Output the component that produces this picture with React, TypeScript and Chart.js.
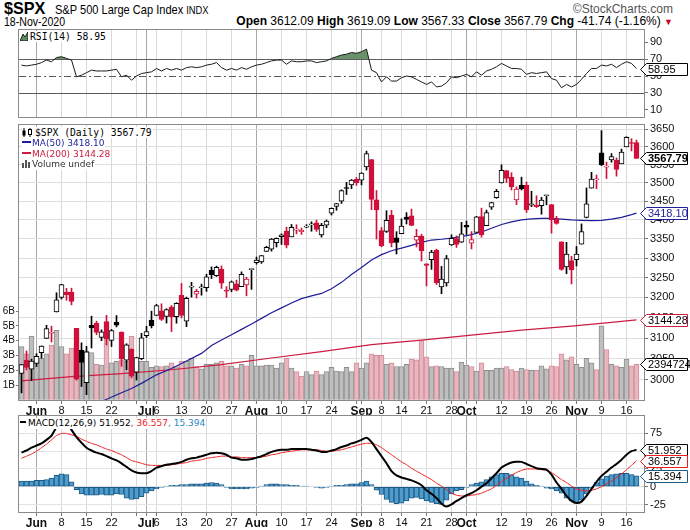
import React, { useEffect, useRef } from 'react';
import { Chart, registerables } from 'chart.js';

Chart.register(...registerables);

// ---------------- data ----------------
const DATES = [
  '05-27','05-28','05-29',
  '06-01','06-02','06-03','06-04','06-05','06-08','06-09','06-10','06-11','06-12',
  '06-15','06-16','06-17','06-18','06-19','06-22','06-23','06-24','06-25','06-26','06-29','06-30',
  '07-01','07-02','07-06','07-07','07-08','07-09','07-10','07-13','07-14','07-15','07-16','07-17',
  '07-20','07-21','07-22','07-23','07-24','07-27','07-28','07-29','07-30','07-31',
  '08-03','08-04','08-05','08-06','08-07','08-10','08-11','08-12','08-13','08-14',
  '08-17','08-18','08-19','08-20','08-21','08-24','08-25','08-26','08-27','08-28','08-31',
  '09-01','09-02','09-03','09-04','09-08','09-09','09-10','09-11','09-14','09-15','09-16','09-17','09-18',
  '09-21','09-22','09-23','09-24','09-25','09-28','09-29','09-30',
  '10-01','10-02','10-05','10-06','10-07','10-08','10-09','10-12','10-13','10-14','10-15','10-16',
  '10-19','10-20','10-21','10-22','10-23','10-26','10-27','10-28','10-29','10-30',
  '11-02','11-03','11-04','11-05','11-06','11-09','11-10','11-11','11-12','11-13','11-16','11-17','11-18',
];

const OPEN = [
  3015.65,3046.61,3025.17,
  3038.78,3064.78,3098.90,3111.56,3163.84,3199.92,3213.32,3213.42,3123.53,3071.04,
  2993.76,3131.00,3136.13,3101.64,3140.29,3094.42,3138.70,3114.40,3046.60,3073.20,3018.59,3050.20,
  3105.92,3143.64,3155.29,3166.44,3153.07,3176.17,3152.47,3205.08,3141.11,3225.98,3208.36,3224.21,
  3224.29,3268.52,3254.86,3271.64,3218.58,3219.84,3234.27,3227.22,3231.76,3270.45,
  3288.26,3289.92,3317.37,3323.17,3340.05,3356.04,3370.34,3355.46,3372.95,3368.66,
  3380.86,3387.04,3392.51,3360.48,3386.01,3418.09,3435.95,3449.97,3485.14,3494.69,3509.73,
  3507.44,3543.76,3564.74,3453.60,3371.88,3369.82,3412.56,3352.70,3363.56,3407.73,3411.23,3346.86,3357.38,
  3285.57,3295.75,3320.11,3226.14,3236.66,3333.90,3350.92,3341.21,
  3385.87,3338.94,3367.27,3408.74,3384.56,3434.28,3459.67,3500.02,3534.01,3515.47,3453.72,3493.50,
  3493.66,3439.38,3439.91,3438.50,3464.90,3441.42,3403.15,3342.48,3277.17,3293.59,
  3296.20,3336.25,3406.46,3485.74,3508.34,3583.04,3543.26,3563.22,3562.67,3552.57,3600.16,3610.31,3612.09,
];

const HIGH = [
  3036.25,3068.67,3049.17,
  3062.18,3081.07,3130.94,3128.91,3211.72,3233.13,3222.71,3223.27,3123.53,3088.42,
  3079.76,3153.45,3141.16,3120.00,3155.53,3120.92,3154.90,3115.01,3086.25,3073.73,3053.89,3111.51,
  3128.44,3165.81,3182.59,3184.15,3171.80,3179.78,3186.82,3235.32,3200.95,3238.28,3220.39,3233.52,
  3258.61,3277.29,3279.32,3279.99,3227.26,3241.43,3243.72,3264.74,3250.92,3272.17,
  3302.73,3306.84,3330.77,3351.03,3352.54,3363.29,3381.01,3387.89,3387.24,3378.51,
  3387.59,3395.06,3399.54,3390.80,3399.96,3432.09,3444.21,3481.07,3501.38,3509.23,3514.77,
  3528.03,3588.11,3564.85,3479.15,3379.97,3424.77,3425.55,3368.95,3402.93,3419.48,3428.92,3375.17,3362.27,
  3285.57,3320.31,3323.35,3278.70,3306.88,3360.74,3357.92,3393.56,
  3397.18,3369.10,3409.57,3431.56,3426.26,3447.28,3482.34,3549.85,3534.01,3527.94,3489.08,3515.76,
  3502.42,3476.93,3464.86,3460.53,3466.46,3441.42,3409.51,3342.48,3341.05,3304.93,
  3330.14,3389.49,3486.25,3529.05,3521.58,3645.99,3557.22,3581.16,3569.02,3593.66,3628.51,3623.11,3619.09,
];

const LOW = [
  2969.75,3023.40,2998.61,
  3031.54,3051.64,3098.90,3090.41,3163.84,3196.00,3193.11,3181.49,2999.49,2984.47,
  2965.66,3076.06,3108.03,3093.51,3083.11,3079.39,3127.12,3032.13,3024.01,3004.63,2999.74,3047.83,
  3101.17,3124.52,3155.29,3142.93,3136.53,3115.70,3136.22,3149.43,3127.66,3200.76,3198.59,3205.65,
  3215.16,3247.77,3253.10,3222.66,3200.05,3214.25,3216.17,3227.22,3204.13,3220.26,
  3284.53,3286.37,3317.37,3318.14,3328.72,3335.44,3326.44,3355.46,3363.35,3361.64,
  3379.22,3370.15,3369.66,3354.69,3379.31,3413.13,3425.84,3444.15,3468.35,3484.32,3493.25,
  3494.60,3535.23,3427.41,3349.63,3329.27,3366.84,3329.25,3310.47,3363.56,3389.25,3384.45,3328.82,3292.40,
  3229.10,3270.95,3232.57,3209.45,3228.44,3332.91,3327.54,3340.47,
  3361.39,3323.69,3367.27,3354.54,3384.56,3428.15,3458.07,3499.61,3500.86,3480.55,3440.89,3480.45,
  3419.93,3435.65,3433.06,3415.34,3440.45,3364.86,3388.71,3268.89,3259.82,3233.94,
  3279.74,3336.25,3405.17,3485.74,3484.34,3547.48,3511.91,3557.00,3518.58,3552.57,3600.16,3588.68,3567.33,
];

const CLOSE = [
  3036.13,3029.73,3044.31,
  3055.73,3080.82,3122.87,3112.35,3193.93,3232.39,3207.18,3190.14,3002.10,3041.31,
  3066.59,3124.74,3113.49,3115.34,3097.74,3117.86,3131.29,3050.33,3083.76,3009.05,3053.24,3100.29,
  3115.86,3130.01,3179.72,3145.32,3169.94,3152.05,3185.04,3155.22,3197.52,3226.56,3215.57,3224.73,
  3251.84,3257.30,3276.02,3235.66,3215.63,3239.41,3218.44,3258.44,3246.22,3271.12,
  3294.61,3306.51,3327.77,3349.16,3351.28,3360.47,3333.69,3380.35,3373.43,3372.85,
  3381.99,3389.78,3374.85,3385.51,3397.16,3431.28,3443.62,3478.73,3484.55,3508.01,3500.31,
  3526.65,3580.84,3455.06,3426.96,3331.84,3398.96,3339.19,3340.97,3383.54,3401.20,3385.49,3357.01,3319.47,
  3281.06,3315.57,3236.92,3246.59,3298.46,3351.60,3335.47,3363.00,
  3380.80,3348.42,3408.60,3360.97,3419.44,3446.83,3477.14,3534.22,3511.93,3488.67,3483.34,3483.81,
  3426.92,3443.12,3435.56,3453.49,3465.39,3400.97,3390.68,3271.03,3310.11,3269.96,
  3310.24,3369.16,3443.44,3510.45,3509.44,3550.50,3545.53,3572.66,3537.01,3585.15,3626.91,3609.53,3567.79,
];

const PREV_CLOSE_START = 2991.77;

// volume in billions of shares
const VOLUME = [
  3.6,3.1,4.3,
  2.9,2.8,3.1,3.7,4.7,3.6,3.1,3.5,4.6,3.3,
  3.3,3.2,2.4,2.35,4.4,2.5,2.6,2.7,2.6,4.3,2.6,2.6,
  2.6,2.2,2.3,2.25,2.3,2.5,2.25,2.6,2.6,2.8,2.25,2.1,
  2.4,2.4,2.5,2.6,2.3,2.3,2.15,2.4,2.3,3.0,
  2.3,2.3,2.35,2.35,2.15,2.5,2.8,2.15,1.9,1.6,
  1.9,1.7,1.95,1.7,1.9,2.2,1.95,1.9,2.2,1.9,2.5,
  2.15,2.5,3.1,3.0,3.0,2.4,2.5,2.25,2.25,2.4,2.75,2.7,4.0,
  2.9,2.25,2.3,2.25,2.15,2.15,1.9,2.55,
  2.35,2.25,1.95,2.5,2.0,2.0,2.15,2.15,2.25,2.05,1.95,2.15,
  2.05,2.0,2.0,2.3,2.1,2.3,2.25,3.1,2.7,2.9,
  2.4,2.2,2.8,2.5,2.05,5.0,3.4,2.4,2.3,2.2,2.75,2.3,2.394724,
];

const MA50_DATES = [
  '06-18','06-24','06-26','06-30','07-06','07-09','07-14','07-17','07-21','07-23','07-27','07-29','07-31',
  '08-04','08-06','08-10','08-12','08-14','08-18','08-20','08-24','08-26','08-28','09-01','09-03','09-08',
  '09-10','09-14','09-16','09-18','09-22','09-24','09-28','09-30','10-02','10-06','10-08','10-12','10-14',
  '10-16','10-20','10-22','10-26','10-28','10-30','11-03','11-05','11-09','11-11','11-13','11-17','11-18',
];
const MA50_VALUES = [
  2950,2970,2980,2992,3012,3027,3045,3063,3082,3095,3108,3121,3134,
  3148,3162,3174,3186,3197,3204,3210,3222,3238,3258,3276,3295,3309,
  3319,3326,3333,3341,3347,3349,3352,3356,3361,3368,3378,3388,3395,
  3400,3403,3404,3404,3402,3400,3399,3398,3399,3402,3407,3414,3418.10,
];

const MA200_DATES = ['05-27','06-10','06-24','07-09','07-23','08-06','08-20','09-03','09-18','10-02','10-16','10-30','11-11','11-18'];
const MA200_VALUES = [2998,3008,3015,3024,3036,3052,3067,3084,3095,3107,3119,3129,3138,3144.28];

const RSI = [
  63,62,63,
  64,66,69,67,72,73,71,69,49,51,
  54,57,56,56,56,57,58,49,51,45,50,53,
  54,55,59,56,59,57,59,57,60,61,60,61,
  63,64,66,60,57,59,57,60,58,61,
  63,64,66,68,69,69,64,68,67,67,
  68,68,66,67,68,71,73,75,76,78,77,
  79,82,57,54,43,49,44,44,48,50,49,46,43,
  40,43,37,38,42,49,48,50,
  52,49,55,51,56,58,61,65,62,59,59,58,
  52,54,53,54,55,47,45,36,40,37,
  40,46,53,59,59,63,62,64,60,64,67,65,58.95,
];

const MACD = [
  48,51,55,
  58,61,66,72,84,95,92,80,70,62,
  55,51,48,46,43,40,37,33,28,23,20,19,
  19,22,27,29,31,32,33,35,38,40,41,43,
  45,47,48,47,45,41,40,38,38,39,
  41,43,46,49,51,52,52,53,53,53,
  53,52,51,49,49,51,53,56,58,61,63,
  66,69,63,53,43,33,22,16,13,11,9,6,2,
  -5,-10,-16,-24,-28,-25,-20,-16,
  -12,-9,-5,0,5,12,19,27,31,34,35,35,
  32,29,26,25,24,17,6,-3,-13,-20,
  -23,-21,-13,-3,7,15,21,27,32,38,45,50,51.952,
];

const SIGNAL = [
  40,43,46,
  50,55,60,66,72,75,75,73,71,67,
  64,61,59,56,53,51,48,45,41,37,35,33,
  31,30,30,30,30,31,32,33,34,36,37,38,
  40,41,42,43,43,42,42,41,41,41,
  41,42,43,45,46,48,49,50,51,52,
  52,52,52,51,50,50,51,52,54,56,58,
  60,61,61,59,55,50,45,40,35,31,26,22,18,
  14,10,5,1,-4,-9,-12,-13,
  -13,-12,-11,-9,-6,-3,2,7,12,16,20,23,
  25,25,25,24,23,20,15,10,6,1,
  -3,-5,-6,-5,-3,0,4,8,13,18,24,30,36.557,
];

const HIST = [
  8,8,8,
  9,9,10,12,16,18,17,7,-4,-10,
  -12,-12,-12,-11,-12,-12,-10,-11,-16,-18,-17,-14,
  -9,-6,-3,-1,1,2,2,3,3,4,4,4,
  5,6,5,3,-1,-3,-3,-3,-3,-2,
  -1,1,3,4,4,3,3,2,2,1,
  1,0,-1,-2,-1,1,2,2,3,4,4,
  6,8,3,-5,-11,-18,-22,-24,-23,-20,-16,-15,-17,
  -20,-22,-24,-25,-19,-10,-6,-4,
  -1,3,5,7,10,14,17,19,19,17,14,12,
  8,4,2,1,-2,-3,-6,-9,-16,-20,
  -22,-19,-10,-2,6,11,15,17,18,19,19,17,15.394,
];

const TICK_DATES = ['06-01','06-08','06-15','06-22','06-29','07-01','07-06','07-13','07-20','07-27','08-03','08-10','08-17','08-24','08-31','09-01','09-08','09-14','09-21','09-28','10-01','10-05','10-12','10-19','10-26','11-02','11-09','11-16'];
const TICK_LABELS = ['Jun','8','15','22','','Jul','6','13','20','27','Aug','10','17','24','','Sep','8','14','21','28','Oct','','12','19','26','Nov','9','16'];

const PRICE_TICKS = [3000,3050,3100,3150,3200,3250,3300,3350,3400,3450,3500,3550,3600,3650];
const VOLUME_TICKS = [1,2,3,4,5,6];
const RSI_TICKS = [10,30,50,70,90];
const MACD_TICKS = [-25,0,25,50,75];

// ---------------- styling helpers ----------------
const AXIS_FONT = '"Liberation Sans", Arial, sans-serif';
const UP = '#000000';
const DOWN = '#d0103a';
const N = DATES.length;
const SLOTS = [...DATES, ''];

const prevClose = (i: number) => (i === 0 ? PREV_CLOSE_START : CLOSE[i - 1]);
const isDown = (i: number) => CLOSE[i] < prevClose(i);
const candleColor = (i: number) => (isDown(i) ? DOWN : UP);

const TICK_AT = new Map<number, number>(TICK_DATES.map((d, k) => [DATES.indexOf(d), k]));
const isMonthLabel = (k: number) => /^[A-Z]/.test(TICK_LABELS[k]);
const isMonthAt = (i: number) => { const k = TICK_AT.get(i); return k !== undefined && isMonthLabel(k); };

function makeX(showLabels: boolean) {
  return {
    type: 'category',
    offset: true,
    grid: {
      offset: false,
      drawTicks: showLabels,
      tickLength: 3,
      lineWidth: 1,
      color: (c: any) => { const k = TICK_AT.get(c.index); if (k === undefined) return 'rgba(0,0,0,0)'; return isMonthLabel(k) ? '#a9a9a9' : '#d9d9d9'; },
      tickColor: (c: any) => (TICK_AT.has(c.index) ? '#777' : 'rgba(0,0,0,0)'),
    },
    border: { display: false },
    ticks: {
      display: showLabels,
      autoSkip: false,
      maxRotation: 0,
      minRotation: 0,
      padding: 0,
      color: '#111',
      callback: (_v: any, i: number) => { const k = TICK_AT.get(i); return k === undefined ? '' : TICK_LABELS[k]; },
      font: (c: any) => ({ family: AXIS_FONT, size: isMonthAt(c.index) ? 12 : 11, weight: isMonthAt(c.index) ? 'bold' : 'normal' }),
    },
    afterFit: (s: any) => { s.height = showLabels ? 14 : 0; s.paddingLeft = 0; s.paddingRight = 0; },
  };
}

function rightY(extra: any) {
  return {
    position: 'right',
    border: { display: false },
    ticks: { font: { family: AXIS_FONT, size: 11 }, color: '#111', padding: 2 },
    afterFit: (s: any) => { s.width = 46; s.paddingTop = 0; s.paddingBottom = 0; },
    ...extra,
  };
}

const framePlugin = {
  id: 'frame',
  afterDatasetsDraw(chart: any) {
    const { ctx, chartArea: a } = chart;
    ctx.save();
    ctx.strokeStyle = '#8a8a8a';
    ctx.lineWidth = 1;
    ctx.strokeRect(Math.round(a.left) - 0.5, Math.round(a.top) + 0.5, Math.round(a.right - a.left) + 1, Math.round(a.bottom - a.top) - 1);
    ctx.restore();
  },
};

type Tag = { scale: string; value: number; text: string; color: string; textColor?: string; bold?: boolean };
function tagPlugin(tags: Tag[]) {
  return {
    id: 'tags',
    afterDraw(chart: any) {
      const ctx = chart.ctx;
      const r = chart.chartArea.right;
      tags.forEach((t) => {
        const y = Math.round(chart.scales[t.scale].getPixelForValue(t.value)) + 0.5;
        const h = 12;
        const x0 = r - 3.5, x1 = r + 2.5, x2 = r + 43.5;
        ctx.save();
        ctx.beginPath();
        ctx.moveTo(x0, y);
        ctx.lineTo(x1, y - h / 2);
        ctx.lineTo(x2, y - h / 2);
        ctx.lineTo(x2, y + h / 2);
        ctx.lineTo(x1, y + h / 2);
        ctx.closePath();
        ctx.fillStyle = '#ffffff';
        ctx.fill();
        ctx.strokeStyle = t.color;
        ctx.lineWidth = 1;
        ctx.stroke();
        ctx.fillStyle = t.textColor || t.color;
        ctx.font = `${t.bold ? 'bold ' : ''}11px ${AXIS_FONT}`;
        ctx.textBaseline = 'middle';
        ctx.textAlign = 'left';
        ctx.fillText(t.text, x1 + 1.5, y + 0.5);
        ctx.restore();
      });
    },
  };
}

function levelPlugin(levels: { value: number; dash: number[] }[]) {
  return {
    id: 'levels',
    beforeDatasetsDraw(chart: any) {
      const { ctx, chartArea: a } = chart;
      levels.forEach((l) => {
        const y = Math.round(chart.scales.y.getPixelForValue(l.value)) + 0.5;
        ctx.save();
        ctx.strokeStyle = '#5a5a5a';
        ctx.lineWidth = 1;
        ctx.setLineDash(l.dash);
        ctx.beginPath();
        ctx.moveTo(a.left, y);
        ctx.lineTo(a.right, y);
        ctx.stroke();
        ctx.restore();
      });
    },
  };
}

const RSI_LEVELS = [
  { value: 70, dash: [] as number[] },
  { value: 50, dash: [7, 3, 2, 3] },
  { value: 30, dash: [] as number[] },
];

const baseOptions = (padLeft: number) => ({
  responsive: false,
  animation: false,
  events: [] as any[],
  layout: { padding: { left: padLeft, right: 0, top: 0, bottom: 0 } },
  plugins: { legend: { display: false }, tooltip: { enabled: false } },
});

// ---------------- component ----------------
const SANS = '"DejaVu Sans", Verdana, sans-serif';
const MONO = '"DejaVu Sans Mono", monospace';
const HEAD = '"Liberation Sans", Arial, sans-serif';

export default function App() {
  const rsiRef = useRef<HTMLCanvasElement>(null);
  const mainRef = useRef<HTMLCanvasElement>(null);
  const macdRef = useRef<HTMLCanvasElement>(null);

  useEffect(() => {
    const charts: Chart[] = [];

    charts.push(new Chart(rsiRef.current as HTMLCanvasElement, {
      type: 'line',
      data: {
        labels: SLOTS,
        datasets: [{
          data: RSI,
          borderColor: '#1a1a1a',
          borderWidth: 1,
          pointRadius: 0,
          tension: 0,
          fill: { target: { value: 70 }, above: 'rgba(98,140,98,0.95)', below: 'rgba(0,0,0,0)' },
        } as any],
      },
      options: {
        ...baseOptions(19),
        scales: {
          x: makeX(false),
          y: rightY({
            min: 0, max: 106,
            grid: { drawOnChartArea: false, tickLength: 4, tickColor: '#777' },
            afterBuildTicks: (s: any) => { s.ticks = RSI_TICKS.map((v) => ({ value: v })); },
          }),
        },
      } as any,
      plugins: [levelPlugin(RSI_LEVELS), framePlugin, tagPlugin([{ scale: 'y', value: RSI[N - 1], text: RSI[N - 1].toFixed(2), color: '#000' }])],
    }));

    charts.push(new Chart(mainRef.current as HTMLCanvasElement, {
      type: 'bar',
      data: {
        labels: SLOTS,
        datasets: [
          {
            type: 'bar', data: DATES.map((_, i) => [OPEN[i], CLOSE[i]]),
            backgroundColor: DATES.map((_, i) => (CLOSE[i] >= OPEN[i] ? '#ffffff' : candleColor(i))),
            borderColor: DATES.map((_, i) => candleColor(i)),
            borderWidth: 1, borderSkipped: false, barThickness: 5, grouped: false, minBarLength: 1,
            yAxisID: 'y', order: 1,
          },
          {
            type: 'bar', data: DATES.map((_, i) => [LOW[i], HIGH[i]]),
            backgroundColor: DATES.map((_, i) => candleColor(i)),
            borderWidth: 0, barThickness: 1, grouped: false, yAxisID: 'y', order: 2,
          },
          {
            type: 'line', data: MA50_DATES.map((d, k) => ({ x: d, y: MA50_VALUES[k] })),
            borderColor: '#1e1e9a', borderWidth: 1.2, pointRadius: 0, tension: 0, yAxisID: 'y', order: 3,
          },
          {
            type: 'line', data: MA200_DATES.map((d, k) => ({ x: d, y: MA200_VALUES[k] })),
            borderColor: '#cc1c40', borderWidth: 1.2, pointRadius: 0, tension: 0, yAxisID: 'y', order: 4,
          },
          {
            type: 'bar', data: VOLUME,
            backgroundColor: DATES.map((_, i) => (isDown(i) ? '#e7b7bf' : '#bebebe')),
            borderColor: DATES.map((_, i) => (isDown(i) ? '#d58a98' : '#8e8e8e')),
            borderWidth: 1, barThickness: 5, grouped: false, yAxisID: 'yVol', order: 10,
          },
        ] as any,
      },
      options: {
        ...baseOptions(0),
        scales: {
          x: makeX(true),
          y: rightY({
            type: 'logarithmic', min: 2951, max: 3665,
            grid: { color: '#dedede', tickLength: 4, tickColor: '#777' },
            ticks: { font: { family: AXIS_FONT, size: 11 }, color: '#111', padding: 2, callback: (v: any) => String(v) },
            afterBuildTicks: (s: any) => { s.ticks = PRICE_TICKS.map((v) => ({ value: v })); },
          }),
          yVol: {
            type: 'linear', position: 'left', min: -0.08, max: 18.64,
            border: { display: false },
            grid: { drawOnChartArea: false, tickLength: 3, tickColor: '#777' },
            ticks: { font: { family: AXIS_FONT, size: 10 }, color: '#111', padding: 1, callback: (v: any) => `${v}B` },
            afterBuildTicks: (s: any) => { s.ticks = VOLUME_TICKS.map((v) => ({ value: v })); },
            afterFit: (s: any) => { s.width = 19; s.paddingTop = 0; s.paddingBottom = 0; },
          },
        },
      } as any,
      plugins: [framePlugin, tagPlugin([
        { scale: 'y', value: CLOSE[N - 1], text: CLOSE[N - 1].toFixed(2), color: '#000', bold: true },
        { scale: 'y', value: MA50_VALUES[MA50_VALUES.length - 1], text: MA50_VALUES[MA50_VALUES.length - 1].toFixed(2), color: '#1e1e9a' },
        { scale: 'y', value: MA200_VALUES[MA200_VALUES.length - 1], text: MA200_VALUES[MA200_VALUES.length - 1].toFixed(2), color: '#cc1c40', textColor: '#000' },
        { scale: 'yVol', value: VOLUME[N - 1], text: String(Math.round(VOLUME[N - 1] * 1e6)), color: '#000' },
      ])],
    }));

    charts.push(new Chart(macdRef.current as HTMLCanvasElement, {
      type: 'bar',
      data: {
        labels: SLOTS,
        datasets: [
          { type: 'line', data: MACD, borderColor: '#000', borderWidth: 2, pointRadius: 0, tension: 0.2, order: 1 },
          { type: 'line', data: SIGNAL, borderColor: '#ee1c1c', borderWidth: 1, pointRadius: 0, tension: 0.2, order: 2 },
          {
            type: 'bar', data: HIST, backgroundColor: '#4d9ccb', borderColor: '#1d5a86', borderWidth: 1,
            borderSkipped: false, barThickness: 5, grouped: false, order: 3,
          },
        ] as any,
      },
      options: {
        ...baseOptions(19),
        scales: {
          x: makeX(true),
          y: rightY({
            min: -37, max: 101,
            grid: { color: '#e2e2e2', tickLength: 4, tickColor: '#777' },
            afterBuildTicks: (s: any) => { s.ticks = MACD_TICKS.map((v) => ({ value: v })); },
          }),
        },
      } as any,
      plugins: [framePlugin, tagPlugin([
        { scale: 'y', value: MACD[N - 1], text: MACD[N - 1].toFixed(3), color: '#000' },
        { scale: 'y', value: SIGNAL[N - 1], text: SIGNAL[N - 1].toFixed(3), color: '#ee1c1c', textColor: '#000' },
        { scale: 'y', value: HIST[N - 1], text: HIST[N - 1].toFixed(3), color: '#1d5a86', textColor: '#000' },
      ])],
    }));

    return () => charts.forEach((c) => c.destroy());
  }, []);

  const last = N - 1;
  const chg = CLOSE[last] - CLOSE[last - 1];
  const pct = (chg / CLOSE[last - 1]) * 100;
  const abs = (extra: React.CSSProperties): React.CSSProperties => ({ position: 'absolute', whiteSpace: 'nowrap', ...extra });
  const narrow = (extra: React.CSSProperties, sx: number): React.CSSProperties =>
    abs({ fontFamily: HEAD, transform: `scaleX(${sx})`, transformOrigin: 'left top', ...extra });
  const legendLine = (top: number, left: number, font: string, size: number): React.CSSProperties =>
    abs({ top, left, fontFamily: font, fontSize: size, lineHeight: '11px', background: '#fff', paddingRight: 1 });

  return (
    <div style={{ position: 'fixed', left: 0, top: 0, width: 690, height: 530, background: '#fff', overflow: 'hidden' }}>
      {/* header */}
      <div style={narrow({ left: 4, top: 0, fontWeight: 'bold', fontSize: 17, lineHeight: '17px', color: '#000' }, 0.95)}>$SPX</div>
      <div style={narrow({ left: 55, top: 3, fontSize: 13, lineHeight: '14px', color: '#000' }, 0.85)}>
        S&amp;P 500 Large Cap Index <span style={{ fontSize: 11 }}>INDX</span>
      </div>
      <div style={abs({ right: 17, top: 3, fontFamily: HEAD, fontSize: 12, lineHeight: '13px', color: '#555' })}>©StockCharts.com</div>
      <div style={narrow({ left: 4, top: 16, fontSize: 12, lineHeight: '13px', color: '#000' }, 0.88)}>18-Nov-2020</div>
      <div style={abs({ right: 17, top: 15, fontFamily: HEAD, fontSize: 12, lineHeight: '13px', color: '#000' })}>
        <b>Open</b> {OPEN[last].toFixed(2)} <b>High</b> {HIGH[last].toFixed(2)} <b>Low</b> {LOW[last].toFixed(2)}{' '}
        <b>Close</b> {CLOSE[last].toFixed(2)} <b>Chg</b> {chg.toFixed(2)} ({pct.toFixed(2)}%){' '}
        <span style={{ color: '#cc0022', fontSize: 9 }}>▼</span>
      </div>

      {/* canvases */}
      <canvas ref={rsiRef} width={690} height={89} style={{ position: 'absolute', left: 0, top: 29, display: 'block' }} />
      <canvas ref={mainRef} width={690} height={291} style={{ position: 'absolute', left: 0, top: 124, display: 'block' }} />
      <canvas ref={macdRef} width={690} height={112} style={{ position: 'absolute', left: 0, top: 415, display: 'block' }} />

      {/* RSI legend */}
      <div style={legendLine(31, 20, MONO, 9.7)}>
        <svg width="8" height="9" style={{ verticalAlign: '-1px', marginRight: 2 }}>
          <polygon points="0,9 3,2 5,5 8,0 8,9" fill="#5f8c5f" stroke="#000" strokeWidth="0.8" />
        </svg>
        RSI(14) {RSI[last].toFixed(2)}
      </div>

      {/* Price legend */}
      <div style={legendLine(127, 22, MONO, 9.7)}>
        <svg width="11" height="9" style={{ verticalAlign: '-1px', marginRight: 2 }}>
          <rect x="0.5" y="2.5" width="3" height="5" fill="#000" />
          <line x1="2" y1="0" x2="2" y2="9" stroke="#000" />
          <rect x="6.5" y="1.5" width="3" height="5" fill="#fff" stroke="#000" />
          <line x1="8" y1="0" x2="8" y2="1.5" stroke="#000" />
          <line x1="8" y1="6.5" x2="8" y2="9" stroke="#000" />
        </svg>
        $SPX (Daily) {CLOSE[last].toFixed(2)}
      </div>
      <div style={legendLine(138, 22, SANS, 9)}>
        <span style={{ display: 'inline-block', width: 9, height: 2, background: '#1e1e9a', verticalAlign: '3px', marginRight: 1 }} />
        <span style={{ color: '#1e1e9a' }}>MA(50) {MA50_VALUES[MA50_VALUES.length - 1].toFixed(2)}</span>
      </div>
      <div style={legendLine(149, 22, SANS, 9)}>
        <span style={{ display: 'inline-block', width: 9, height: 2, background: '#cc1c40', verticalAlign: '3px', marginRight: 1 }} />
        <span style={{ color: '#cc1c40' }}>MA(200) {MA200_VALUES[MA200_VALUES.length - 1].toFixed(2)}</span>
      </div>
      <div style={legendLine(159, 22, SANS, 9)}>
        <svg width="9" height="9" style={{ verticalAlign: '-1px', marginRight: 1 }}>
          <rect x="0" y="4" width="2" height="5" fill="#555" />
          <rect x="3" y="1" width="2" height="8" fill="#555" />
          <rect x="6" y="3" width="2" height="6" fill="#555" />
        </svg>
        <span style={{ color: '#333' }}>Volume undef</span>
      </div>

      {/* MACD legend */}
      <div style={legendLine(418, 20, SANS, 9)}>
        <span style={{ display: 'inline-block', width: 6, height: 2, background: '#000', verticalAlign: '3px', marginRight: 2 }} />
        MACD(12,26,9) {MACD[last].toFixed(3)}
        <span style={{ color: '#ee1c1c' }}>, {SIGNAL[last].toFixed(3)}</span>
        <span style={{ color: '#2a86c0' }}>, {HIST[last].toFixed(3)}</span>
      </div>
    </div>
  );
}
